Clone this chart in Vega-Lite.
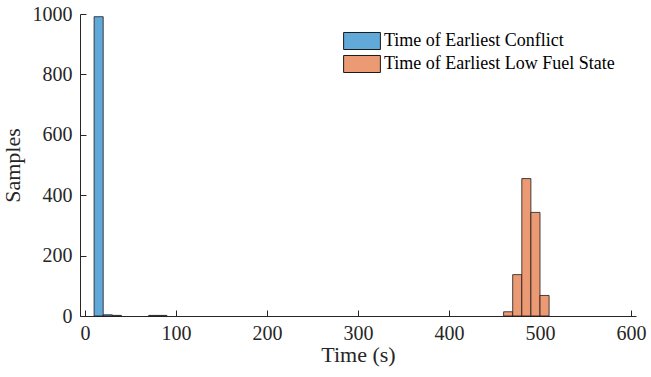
{
  "$schema": "https://vega.github.io/schema/vega-lite/v6.json",
  "width": 556,
  "height": 302,
  "autosize": {"type": "none"},
  "padding": {"left": 80, "top": 14, "right": 15, "bottom": 61},
  "background": "white",
  "config": {
    "view": {"stroke": null},
    "font": "Liberation Serif",
    "axis": {
      "grid": false,
      "domainColor": "#262626",
      "tickColor": "#262626",
      "labelColor": "#262626",
      "titleColor": "#262626",
      "labelFont": "Liberation Serif",
      "titleFont": "Liberation Serif",
      "labelFontSize": 20,
      "titleFontSize": 22,
      "titleFontWeight": "normal",
      "tickSize": -6,
      "domainWidth": 1,
      "tickWidth": 1
    }
  },
  "data": {
    "values": [
      {"series": "Time of Earliest Conflict", "start": 10, "end": 20, "count": 991},
      {"series": "Time of Earliest Conflict", "start": 20, "end": 30, "count": 4},
      {"series": "Time of Earliest Conflict", "start": 30, "end": 40, "count": 2},
      {"series": "Time of Earliest Conflict", "start": 70, "end": 80, "count": 2},
      {"series": "Time of Earliest Conflict", "start": 80, "end": 90, "count": 2},
      {"series": "Time of Earliest Low Fuel State", "start": 460, "end": 470, "count": 14},
      {"series": "Time of Earliest Low Fuel State", "start": 470, "end": 480, "count": 137},
      {"series": "Time of Earliest Low Fuel State", "start": 480, "end": 490, "count": 455},
      {"series": "Time of Earliest Low Fuel State", "start": 490, "end": 500, "count": 343},
      {"series": "Time of Earliest Low Fuel State", "start": 500, "end": 510, "count": 68}
    ]
  },
  "mark": {"type": "bar", "orient": "vertical", "stroke": "#1a1a1a", "strokeWidth": 0.8, "opacity": 1},
  "encoding": {
    "x": {
      "field": "start",
      "type": "quantitative",
      "scale": {"domain": [0, 600], "nice": false},
      "axis": {"values": [0, 100, 200, 300, 400, 500, 600], "title": "Time (s)", "labelPadding": 13, "titlePadding": 1}
    },
    "x2": {"field": "end"},
    "y": {
      "field": "count",
      "type": "quantitative",
      "scale": {"domain": [0, 1000], "nice": false},
      "axis": {"values": [0, 200, 400, 600, 800, 1000], "format": "d", "title": "Samples", "labelPadding": 14, "titlePadding": 8}
    },
    "y2": {"datum": 0},
    "color": {
      "field": "series",
      "type": "nominal",
      "scale": {"domain": ["Time of Earliest Conflict", "Time of Earliest Low Fuel State"], "range": ["#61a9d9", "#eb9a73"]},
      "legend": {
        "title": null,
        "orient": "none",
        "legendX": 270,
        "legendY": 15,
        "symbolType": "M-1.6,-0.74L1.6,-0.74L1.6,0.74L-1.6,0.74Z",
        "symbolSize": 529,
        "symbolStrokeColor": "#1a1a1a",
        "symbolStrokeWidth": 1,
        "symbolOpacity": 1,
        "labelFont": "Liberation Serif",
        "labelFontSize": 18,
        "labelColor": "#000000",
        "rowPadding": -1,
        "labelOffset": 10,
        "padding": 0,
        "labelLimit": 400
      }
    }
  }
}
